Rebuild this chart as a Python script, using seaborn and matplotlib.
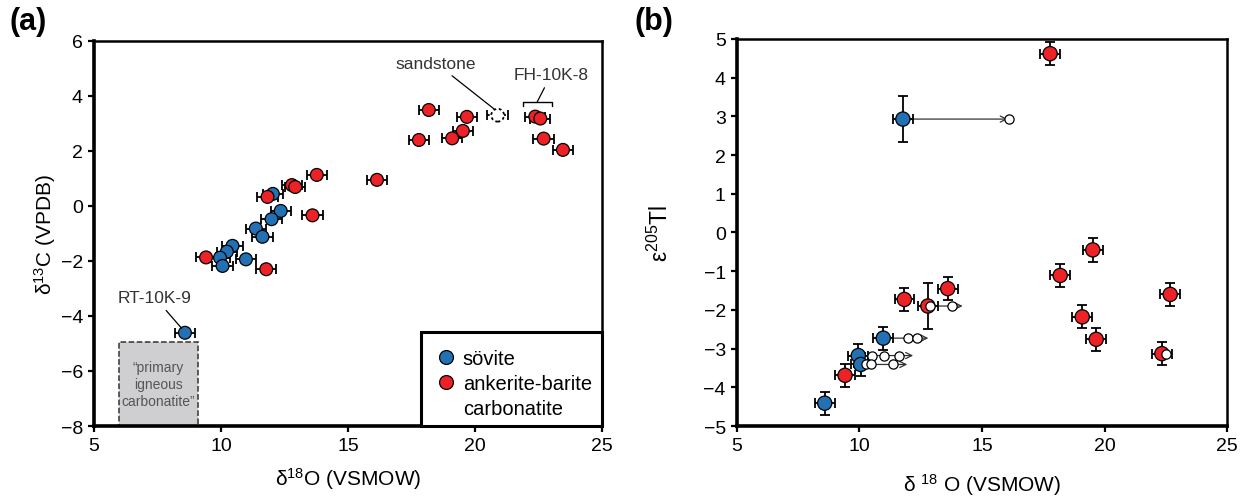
import pandas as pd
import seaborn as sns
import matplotlib.pyplot as plt
from matplotlib.patches import Rectangle
from matplotlib.lines import Line2D

BLUE = "#2271b5"
RED = "#ec2227"

# ---- panel (a): d18O vs d13C ----
sov_a_x = [12.04, 12.35, 11.99, 11.37, 11.63, 10.45, 10.23, 9.96, 10.06, 10.98, 8.58]
sov_a_y = [0.44, -0.18, -0.48, -0.82, -1.12, -1.45, -1.66, -1.88, -2.18, -1.94, -4.61]
ank_a_x = [18.18, 19.68, 22.37, 22.57, 19.52, 17.79, 19.10, 22.70, 23.46, 13.77,
           16.14, 12.79, 12.92, 11.83, 13.60, 9.41, 11.78]
ank_a_y = [3.49, 3.24, 3.25, 3.18, 2.73, 2.40, 2.46, 2.45, 2.04, 1.13,
           0.95, 0.76, 0.69, 0.33, -0.34, -1.87, -2.30]
xerr_a = 0.4
sandstone_x, sandstone_y = 20.89, 3.30

# ---- panel (b): d18O vs e205Tl ----
sov_b_x = [11.77, 10.97, 9.95, 10.05, 8.58]
sov_b_y = [2.93, -2.73, -3.18, -3.41, -4.41]
sov_b_yerr = [0.6, 0.3, 0.3, 0.3, 0.3]
ank_b_x = [17.78, 19.52, 18.19, 22.68, 19.09, 19.66, 22.34, 13.60, 11.83, 12.79, 9.41]
ank_b_y = [4.62, -0.45, -1.11, -1.60, -2.18, -2.76, -3.13, -1.45, -1.73, -1.90, -3.69]
ank_b_yerr = [0.29, 0.3, 0.3, 0.3, 0.3, 0.3, 0.3, 0.3, 0.3, 0.6, 0.3]
xerr_b = 0.4

# open circles (shifted values) and arrows
open_x = [16.12, 11.97, 12.35, 10.49, 11.02, 11.62, 10.26, 10.45, 11.35, 12.87, 13.77, 22.52]
open_y = [2.93, -2.73, -2.73, -3.18, -3.18, -3.18, -3.41, -3.41, -3.41, -1.90, -1.90, -3.13]
arrow_x0 = [11.77, 10.97, 9.95, 10.05, 12.79]
arrow_x1 = [16.05, 12.81, 12.19, 11.95, 14.21]
arrow_y = [2.93, -2.73, -3.18, -3.41, -1.90]

labels = ["sövite", "ankerite-barite"]

sns.set_style("ticks")
plt.rcParams["font.family"] = ["Liberation Sans", "DejaVu Sans"]
plt.rcParams["mathtext.fontset"] = "custom"
plt.rcParams["mathtext.rm"] = "Liberation Sans"
plt.rcParams["mathtext.it"] = "Liberation Sans:italic"
plt.rcParams["mathtext.bf"] = "Liberation Sans:bold"
plt.rcParams["text.color"] = "black"
plt.rcParams["axes.labelcolor"] = "black"
plt.rcParams["axes.edgecolor"] = "black"

df_a = pd.DataFrame({
    "d18O": sov_a_x + ank_a_x,
    "d13C": sov_a_y + ank_a_y,
    "type": [labels[0]] * len(sov_a_x) + [labels[1]] * len(ank_a_x),
})
df_b = pd.DataFrame({
    "d18O": sov_b_x + ank_b_x,
    "eTl": sov_b_y + ank_b_y,
    "yerr": sov_b_yerr + ank_b_yerr,
    "type": [labels[0]] * len(sov_b_x) + [labels[1]] * len(ank_b_x),
})
palette = {labels[0]: BLUE, labels[1]: RED}

fig = plt.figure(figsize=(12.47, 5.02), dpi=100)
ax1 = fig.add_axes([0.0754, 0.1494, 0.4074, 0.767])
ax2 = fig.add_axes([0.591, 0.1494, 0.393, 0.771])


def style_axes(ax):
    for side in ["left", "bottom"]:
        ax.spines[side].set_linewidth(2.6)
    for side in ["top", "right"]:
        ax.spines[side].set_visible(True)
        ax.spines[side].set_linewidth(1.8)
    ax.tick_params(direction="out", length=4, width=1.6, labelsize=14, colors="black", pad=4)


# ---------------- panel (a) ----------------
ax1.errorbar(df_a["d18O"], df_a["d13C"], xerr=xerr_a, fmt="none", ecolor="black",
             elinewidth=1.3, capsize=3.5, capthick=1.3, zorder=2)
sns.scatterplot(data=df_a, x="d18O", y="d13C", hue="type", hue_order=labels,
                palette=palette, s=85, edgecolor="black", linewidth=0.9,
                zorder=3, ax=ax1, legend=False)

# sandstone (dashed)
eb = ax1.errorbar([sandstone_x], [sandstone_y], xerr=xerr_a, fmt="none", ecolor="black",
                  elinewidth=1.3, capsize=3.5, capthick=1.3, zorder=2)
eb[2][0].set_linestyle((0, (1.5, 1.5)))
ax1.scatter([sandstone_x], [sandstone_y], s=85, facecolor="white", edgecolor="black",
            linewidth=1.3, linestyle=(0, (1.5, 1.5)), zorder=3)

# primary igneous carbonatite box
ax1.add_patch(Rectangle((6.0, -8), 3.08, 3.05, facecolor="#cfcfd1", edgecolor="#333333",
                        linewidth=1.1, linestyle="--", zorder=1))
ax1.text(7.54, -6.47, "\u201cprimary\nigneous\ncarbonatite\u201d", ha="center", va="center",
         fontsize=10, color="#555555", linespacing=1.3, zorder=2)

# annotations
ax1.annotate("RT-10K-9", xy=(8.45, -4.45), xytext=(7.40, -3.33), ha="center", va="center",
             fontsize=12.5, color="#333333",
             arrowprops=dict(arrowstyle="-", color="black", lw=0.9, shrinkA=2, shrinkB=0))
ax1.annotate("sandstone", xy=(20.76, 3.52), xytext=(18.47, 5.19), ha="center", va="center",
             fontsize=12.5, color="#333333",
             arrowprops=dict(arrowstyle="-", color="black", lw=0.9, shrinkA=2, shrinkB=0))
ax1.plot([21.9, 21.9, 23.02, 23.02], [3.65, 3.79, 3.79, 3.65], color="black", lw=1.0)
ax1.annotate("FH-10K-8", xy=(22.45, 3.79), xytext=(23.0, 4.78), ha="center", va="center",
             fontsize=12.5, color="#333333",
             arrowprops=dict(arrowstyle="-", color="black", lw=0.9, shrinkA=2, shrinkB=0))

# legend box
ax1.add_patch(Rectangle((17.88, -8), 7.12, 3.43, facecolor="white", edgecolor="black",
                        linewidth=2.2, zorder=4, clip_on=False))
handles = [Line2D([], [], marker="o", ls="none", markersize=10, markerfacecolor=BLUE,
                  markeredgecolor="black", markeredgewidth=0.9),
           Line2D([], [], marker="o", ls="none", markersize=10, markerfacecolor=RED,
                  markeredgecolor="black", markeredgewidth=0.9),
           Line2D([], [], ls="none")]
leg = ax1.legend(handles, ["sövite", "ankerite-barite", "carbonatite"], frameon=False,
                 loc="upper left", bbox_to_anchor=(18.45, -5.2), bbox_transform=ax1.transData,
                 fontsize=14.5, handletextpad=0.35, labelspacing=0.3, borderpad=0,
                 handlelength=1.0, borderaxespad=0)
leg.set_zorder(5)

ax1.set_xlim(5, 25)
ax1.set_ylim(-8, 6)
ax1.set_xticks([5, 10, 15, 20, 25])
ax1.set_yticks([-8, -6, -4, -2, 0, 2, 4, 6])
ax1.set_xlabel("δ$^{18}$O (VSMOW)", fontsize=15, labelpad=8)
ax1.set_ylabel("δ$^{13}$C (VPDB)", fontsize=15, labelpad=2)
style_axes(ax1)

# ---------------- panel (b) ----------------
for x0, x1, y in zip(arrow_x0, arrow_x1, arrow_y):
    ax2.annotate("", xy=(x1, y), xytext=(x0, y),
                 arrowprops=dict(arrowstyle="->", color="#333333", lw=0.9,
                                 shrinkA=0, shrinkB=0, mutation_scale=11), zorder=1)
ax2.errorbar(df_b["d18O"], df_b["eTl"], xerr=xerr_b, yerr=df_b["yerr"], fmt="none",
             ecolor="black", elinewidth=1.3, capsize=3.5, capthick=1.3, zorder=2)
sns.scatterplot(data=df_b, x="d18O", y="eTl", hue="type", hue_order=labels,
                palette=palette, s=105, edgecolor="black", linewidth=0.9,
                zorder=3, ax=ax2, legend=False)
ax2.scatter(open_x, open_y, s=44, facecolor="white", edgecolor="black", linewidth=0.9, zorder=4)

ax2.set_xlim(5, 25)
ax2.set_ylim(-5, 5)
ax2.set_xticks([5, 10, 15, 20, 25])
ax2.set_yticks(range(-5, 6))
ax2.set_xlabel("δ $^{18}$ O (VSMOW)", fontsize=15, labelpad=12)
ax2.set_ylabel("ε$^{205}$Tl", fontsize=16.5, labelpad=22)
style_axes(ax2)

fig.text(0.008, 0.956, "(a)", fontsize=22, fontweight="bold", va="center", ha="left")
fig.text(0.509, 0.956, "(b)", fontsize=22, fontweight="bold", va="center", ha="left")

fig.savefig("out.png", dpi=100)
